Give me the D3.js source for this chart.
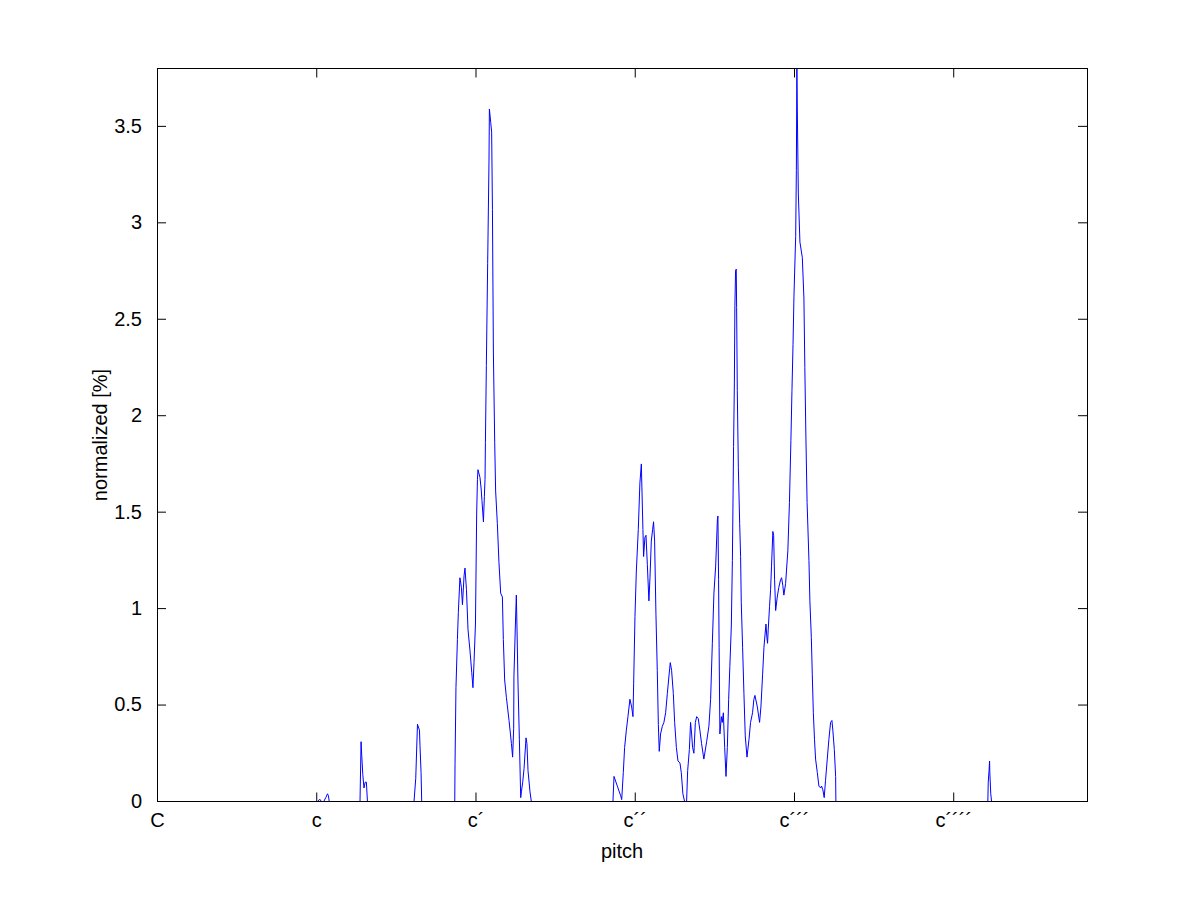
<!DOCTYPE html>
<html>
<head>
<meta charset="utf-8">
<script src="https://cdn.jsdelivr.net/npm/d3@7"></script>
<style>
  html, body { margin: 0; padding: 0; background: #ffffff; }
  svg { display: block; }
  text { font-family: "Liberation Sans", Arial, Helvetica, sans-serif; }
</style>
</head>
<body>
<svg id="chart" width="1201" height="901"></svg>
<script>
// ---- data ----
// pitch in semitones above C (C = 0, c = 12, c´ = 24, ...)
const tickPitches = [0, 12, 24, 36, 48, 60];
const tickLabels = ["C", "c", "c\u00B4", "c\u00B4\u00B4", "c\u00B4\u00B4\u00B4", "c\u00B4\u00B4\u00B4\u00B4"];
const yTickValues = [0, 0.5, 1, 1.5, 2, 2.5, 3, 3.5];
const pitchRange = [0, 70.08];
const valueRange = [0, 3.8];

const pitch = [
  0, 12.08, 12.19, 12.26, 12.34, 12.53, 12.68, 12.81, 12.88, 12.94,
  15.26, 15.34, 15.39, 15.47, 15.56, 15.65, 15.74, 15.82,
  19.33, 19.46, 19.59, 19.74, 19.78, 19.86, 19.91,
  22.40, 22.42, 22.49, 22.60, 22.67, 22.79, 22.90, 22.98, 23.10, 23.17, 23.28, 23.40, 23.55, 23.68, 23.77, 23.85, 23.96,
  24.05, 24.11, 24.15, 24.30, 24.39, 24.45, 24.56, 24.63, 24.68, 24.71, 24.78, 24.88, 24.98, 25.01, 25.11, 25.18, 25.24,
  25.31, 25.41, 25.48, 25.61, 25.73, 25.86, 25.99, 26.06, 26.16, 26.29, 26.49, 26.67, 26.76, 26.84, 26.86, 26.97, 27.04,
  27.09, 27.16, 27.27, 27.37, 27.42, 27.52, 27.62, 27.77, 27.84, 27.92, 28.07, 28.17,
  34.32, 34.40, 34.65, 34.90, 34.98, 35.10, 35.20, 35.33, 35.45, 35.60, 35.73, 35.83, 35.88, 35.98, 36.08, 36.23, 36.35,
  36.46, 36.50, 36.58, 36.63, 36.73, 36.81, 36.91, 37.03, 37.11, 37.21, 37.31, 37.38, 37.46, 37.56, 37.66, 37.74, 37.81,
  37.91, 38.04, 38.16, 38.29, 38.42, 38.54, 38.64, 38.74, 38.87, 38.97, 39.10, 39.22, 39.37, 39.47, 39.59, 39.72, 39.87,
  39.95, 40.08, 40.17, 40.25, 40.32, 40.42, 40.53, 40.63, 40.75, 40.87, 41.00, 41.17, 41.38, 41.55, 41.68, 41.81, 41.93,
  42.06, 42.19, 42.23, 42.28, 42.32, 42.38, 42.49, 42.56, 42.64, 42.74, 42.84, 42.94, 43.04, 43.13, 43.24, 43.32, 43.41,
  43.47, 43.51, 43.56, 43.61, 43.64, 43.69, 43.77, 43.87, 43.94, 43.99, 44.09, 44.19, 44.29, 44.42, 44.57, 44.69, 44.84,
  44.94, 45.02, 45.20, 45.37, 45.47, 45.60, 45.70, 45.85, 45.92, 45.97, 46.02, 46.12, 46.20, 46.27, 46.37, 46.43, 46.50,
  46.58, 46.70, 46.82, 46.95, 47.03, 47.12, 47.20, 47.33, 47.40, 47.50, 47.62, 47.73, 47.81, 47.89, 47.96, 48.09, 48.14,
  48.18, 48.21, 48.29, 48.41, 48.59, 48.71, 48.78, 48.86, 48.95, 49.09, 49.16, 49.27, 49.34, 49.42, 49.51, 49.59, 49.72,
  49.84, 49.97, 50.04, 50.14, 50.24, 50.34, 50.47, 50.59, 50.72, 50.82, 50.89, 51.00, 51.10, 51.12,
  62.57, 62.60, 62.66, 62.70, 62.72, 62.79, 62.85, 70.08
];

const normalized = [
  0, 0, 0.01, 0.01, 0, 0, 0.02, 0.04, 0.03, 0,
  0, 0.31, 0.24, 0.14, 0.07, 0.10, 0.10, 0,
  0, 0.12, 0.40, 0.37, 0.29, 0.15, 0,
  0, 0.19, 0.59, 0.84, 0.98, 1.16, 1.11, 1.02, 1.17, 1.21, 1.10, 0.89, 0.78, 0.67, 0.59, 0.72, 0.92,
  1.49, 1.67, 1.72, 1.68, 1.62, 1.56, 1.45, 1.58, 1.67, 1.86, 2.26, 2.79, 3.32, 3.59, 3.52, 3.47, 3.07,
  2.33, 1.86, 1.61, 1.44, 1.24, 1.08, 1.06, 0.84, 0.63, 0.54, 0.42, 0.30, 0.23, 0.38, 0.65, 0.92, 1.07,
  0.90, 0.63, 0.32, 0.02, 0.05, 0.10, 0.17, 0.33, 0.30, 0.16, 0.05, 0,
  0, 0.13, 0.08, 0.03, 0.01, 0.15, 0.28, 0.37, 0.44, 0.53, 0.49, 0.44, 0.61, 0.96, 1.19, 1.41, 1.65,
  1.75, 1.63, 1.41, 1.27, 1.37, 1.38, 1.23, 1.04, 1.16, 1.35, 1.41, 1.45, 1.35, 0.97, 0.68, 0.40, 0.26,
  0.35, 0.39, 0.41, 0.46, 0.56, 0.65, 0.72, 0.68, 0.56, 0.41, 0.28, 0.21, 0.20, 0.15, 0.04, 0, 0,
  0.16, 0.27, 0.41, 0.35, 0.28, 0.25, 0.41, 0.44, 0.43, 0.37, 0.30, 0.22, 0.31, 0.39, 0.53, 0.82, 1.08,
  1.22, 1.46, 1.48, 1.15, 0.80, 0.35, 0.44, 0.41, 0.46, 0.28, 0.13, 0.28, 0.53, 0.70, 0.91, 1.25, 1.84,
  2.17, 2.57, 2.75, 2.76, 2.56, 2.13, 1.73, 1.44, 1.27, 1.03, 0.80, 0.56, 0.34, 0.23, 0.32, 0.41, 0.46,
  0.53, 0.55, 0.49, 0.41, 0.49, 0.66, 0.80, 0.92, 0.85, 0.82, 0.89, 1.01, 1.10, 1.22, 1.40, 1.38, 1.15,
  0.99, 1.06, 1.11, 1.15, 1.16, 1.12, 1.07, 1.13, 1.20, 1.30, 1.55, 1.87, 2.13, 2.37, 2.62, 2.93, 3.27,
  3.80, 3.60, 3.15, 2.90, 2.82, 2.61, 2.25, 1.89, 1.55, 1.25, 1.04, 0.85, 0.66, 0.46, 0.32, 0.22, 0.15,
  0.08, 0.07, 0.08, 0.06, 0.02, 0.11, 0.22, 0.32, 0.41, 0.42, 0.37, 0.27, 0.13, 0,
  0, 0.10, 0.16, 0.21, 0.15, 0.04, 0, 0
];

// ---- layout ----
const svg = d3.select("#chart");
const plotLeft = 157, plotRight = 1087, plotTop = 68.5, plotBottom = 801.5;

const x = d3.scaleLinear().domain(pitchRange).range([plotLeft, plotRight]);
const y = d3.scaleLinear().domain(valueRange).range([plotBottom, plotTop]);

svg.append("rect").attr("width", 1201).attr("height", 901).attr("fill", "#ffffff");

svg.append("defs").append("clipPath").attr("id", "plotclip")
  .append("rect").attr("x", plotLeft).attr("y", plotTop - 1)
  .attr("width", plotRight - plotLeft + 1).attr("height", plotBottom - plotTop + 1);

const series = pitch.map((p, i) => ({ p, v: normalized[i] }));

svg.append("path")
  .datum(series)
  .attr("clip-path", "url(#plotclip)")
  .attr("fill", "none")
  .attr("stroke", "#0000ff")
  .attr("stroke-width", 1)
  .attr("stroke-linejoin", "miter")
  .attr("d", d3.line().x(d => x(d.p) + 0.5).y(d => y(d.v)));

// axes
const fontSize = 20;
function styleAxis(g) {
  g.selectAll(".domain").remove();
  g.selectAll(".tick line").attr("stroke", "#000").attr("stroke-width", 1);
  g.selectAll(".tick text").attr("fill", "#000").style("font-size", fontSize + "px");
}

svg.append("g")
  .attr("transform", `translate(0,${plotBottom})`)
  .call(d3.axisBottom(x).tickValues(tickPitches).tickFormat((d, i) => tickLabels[i]).tickSize(-9).tickPadding(11))
  .call(styleAxis);

svg.append("g")
  .attr("transform", `translate(0,${plotTop})`)
  .call(d3.axisTop(x).tickValues(tickPitches).tickFormat("").tickSize(-9))
  .call(styleAxis);

svg.append("g")
  .attr("transform", `translate(${plotLeft},-0.5)`)
  .call(d3.axisLeft(y).tickValues(yTickValues).tickFormat(d3.format("~g")).tickSize(-9).tickPadding(15))
  .call(styleAxis);

svg.append("g")
  .attr("transform", `translate(${plotRight},-0.5)`)
  .call(d3.axisRight(y).tickValues(yTickValues).tickFormat("").tickSize(-9))
  .call(styleAxis);

// box (aligned with the crisp tick lines)
svg.append("rect")
  .attr("x", plotLeft + 0.5).attr("y", plotTop)
  .attr("width", plotRight - plotLeft).attr("height", plotBottom - plotTop)
  .attr("fill", "none").attr("stroke", "#000").attr("stroke-width", 1);

// axis labels
svg.append("text")
  .attr("x", (plotLeft + plotRight) / 2).attr("y", 858)
  .attr("text-anchor", "middle")
  .style("font-size", fontSize + "px")
  .text("pitch");

svg.append("text")
  .attr("transform", `translate(107,${(plotTop + plotBottom) / 2}) rotate(-90)`)
  .attr("text-anchor", "middle")
  .style("font-size", fontSize + "px")
  .text("normalized [%]");
</script>
</body>
</html>
